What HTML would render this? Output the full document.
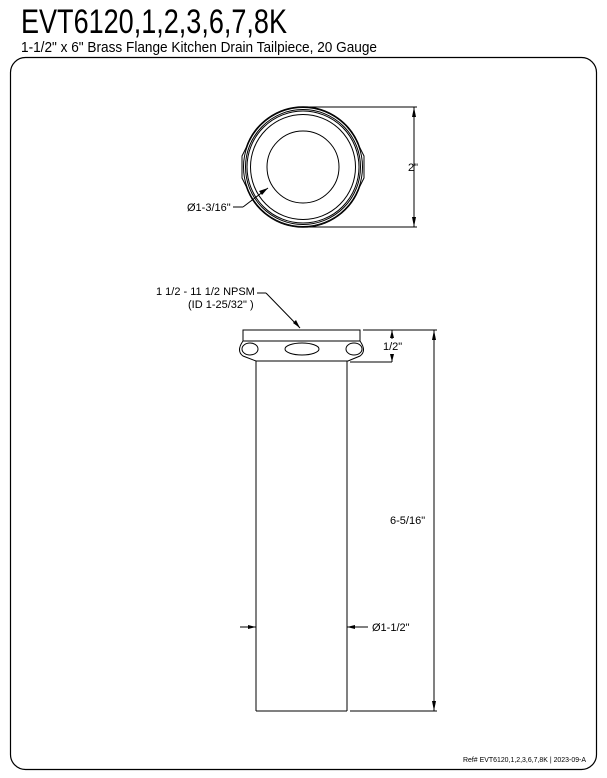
<!DOCTYPE html>
<html><head><style>html,body{margin:0;padding:0;background:#fff}svg{display:block}</style></head>
<body>
<svg width="607" height="778" viewBox="0 0 607 778" xmlns="http://www.w3.org/2000/svg" font-family="'Liberation Sans', sans-serif">
<text x="21" y="33" font-size="34" textLength="266" lengthAdjust="spacingAndGlyphs">EVT6120,1,2,3,6,7,8K</text>
<text x="21" y="52" font-size="14.5" textLength="356" lengthAdjust="spacingAndGlyphs">1-1/2" x 6" Brass Flange Kitchen Drain Tailpiece, 20 Gauge</text>
<rect x="10.5" y="57.5" width="586" height="712" rx="15" fill="none" stroke="#000" stroke-width="1.2"/>
<g fill="none" stroke="#000" stroke-width="1">
<path d="M246 148 A60 60 0 0 1 360 148 L364 156 L364 178 L360 186 A60 60 0 0 1 246 186 L242 178 L242 156 Z"/>
<circle cx="303" cy="167" r="59.5"/>
<circle cx="303" cy="167" r="57.5"/>
<circle cx="303" cy="167" r="56"/>
<circle cx="303" cy="167" r="52.5"/>
<circle cx="303" cy="167" r="36"/>
<line x1="303" y1="107" x2="417" y2="107"/>
<line x1="303" y1="227" x2="417" y2="227"/>
<line x1="414" y1="107" x2="414" y2="227"/>
<path d="M243 207 L268 188"/>
<line x1="233" y1="207" x2="243" y2="207"/>
<rect x="243" y="330" width="117" height="11"/>
<path d="M243 341 Q236 351 243 356 L256 361 L348 361 L360 356 Q367 351 360 341"/>
<ellipse cx="250" cy="349" rx="8" ry="6"/>
<ellipse cx="354" cy="349" rx="8" ry="6"/>
<ellipse cx="302" cy="349" rx="17" ry="6"/>
<line x1="256" y1="361" x2="256" y2="711"/>
<line x1="347" y1="361" x2="347" y2="711"/>
<line x1="256" y1="711" x2="347" y2="711"/>
<line x1="350" y1="711" x2="437" y2="711"/>
<line x1="363" y1="330" x2="437" y2="330"/>
<line x1="350" y1="362" x2="392" y2="362"/>
<line x1="434" y1="330" x2="434" y2="711"/>
<line x1="392" y1="330" x2="392" y2="339"/>
<line x1="392" y1="354" x2="392" y2="362"/>
<path d="M266 293 L300 328"/>
<line x1="257" y1="293" x2="266" y2="293"/>
<line x1="240" y1="627" x2="256" y2="627"/>
<line x1="347" y1="627" x2="368" y2="627"/>
</g>
<g fill="#000">
<path d="M414 107 L412 117 L416 117Z"/><path d="M414 227 L412 217 L416 217Z"/>
<path d="M268 188 L259 191 L262 195Z"/>
<path d="M300 328 L296 320 L293 323Z"/>
<path d="M434 330 L432 340 L436 340Z"/><path d="M434 711 L432 701 L436 701Z"/>
<path d="M392 330 L390 338 L394 338Z"/><path d="M392 362 L390 354 L394 354Z"/>
<path d="M256 627 L248 625 L248 629Z"/><path d="M347 627 L355 625 L355 629Z"/>
</g>
<g font-size="11">
<text x="408" y="171">2"</text>
<text x="187" y="211">Ø1-3/16"</text>
<text x="156" y="295">1 1/2 - 11 1/2 NPSM</text>
<text x="188" y="308">(ID 1-25/32" )</text>
<text x="383" y="350">1/2"</text>
<text x="390" y="524">6-5/16"</text>
<text x="372" y="631">Ø1-1/2"</text>
<text x="463" y="762" font-size="7.5" textLength="123" lengthAdjust="spacingAndGlyphs">Ref# EVT6120,1,2,3,6,7,8K | 2023-09-A</text>
</g>
</svg>
</body></html>
